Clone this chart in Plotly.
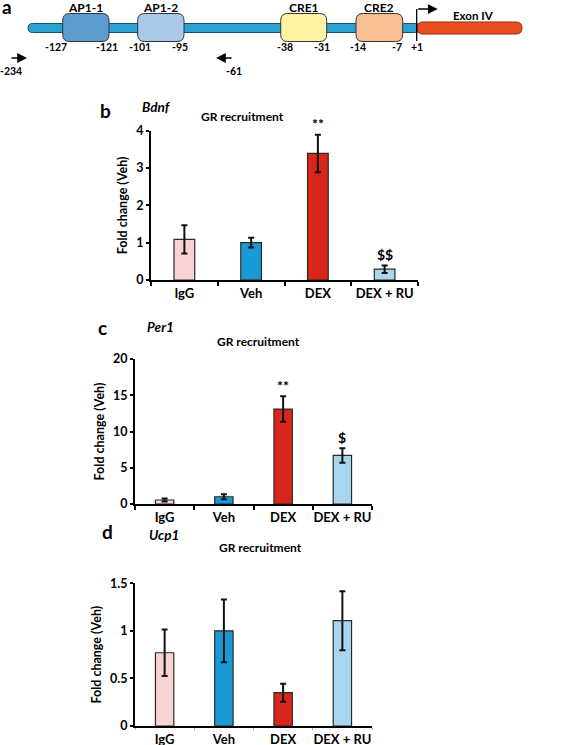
import plotly.graph_objects as go

# ---------------- data ----------------
categories = ["IgG", "Veh", "DEX", "DEX + RU"]

bdnf_values = [1.09, 1.0, 3.39, 0.29]
bdnf_errors = [0.38, 0.13, 0.50, 0.10]
bdnf_marks = ["", "", "**", "$$"]

per1_values = [0.55, 1.0, 13.1, 6.7]
per1_errors = [0.2, 0.35, 1.75, 1.0]
per1_marks = ["", "", "**", "$"]

ucp1_values = [0.77, 1.0, 0.35, 1.107]
ucp1_errors = [0.245, 0.33, 0.095, 0.31]
ucp1_marks = ["", "", "", ""]

# promoter diagram (diagram units)
elements = ["AP1-1", "AP1-2", "CRE1", "CRE2"]
element_start = [62.7, 137.7, 280.7, 356.0]
element_end = [109.0, 184.0, 326.7, 402.7]
site_labels = ["-127", "-121", "-101", "-95", "-38", "-31", "-14", "-7", "+1"]
site_pos = [56, 106.5, 139.5, 180, 285, 321.5, 358, 397, 416.7]
promoter_start, promoter_end = 28, 420
exon_label = "Exon IV"
exon_start, exon_end = 417, 522
tss_pos = 416.7
primer_labels = ["-234", "-61"]
primer_pos = [10, 233]
primer_dir = [1, -1]

# ---------------- styles ----------------
FONT = "Lato"
bar_colors = ["#F9D3D3", "#1A9AD3", "#D8261B", "#A8D6EF"]
element_colors = ["#5B9DD0", "#A9C9EA", "#FFF2A3", "#F8C092"]
W, H = 568, 745

fig = go.Figure()


def py(px):
    return 1 - px / H


panels = [
    dict(vals=bdnf_values, errs=bdnf_errors, marks=bdnf_marks, x="x", y="y",
         xd=[151 / W, 418 / W], yd=[py(280), py(130.7)], rng=[0, 4], dtick=1,
         tcol="black", tw=2, tl=4),
    dict(vals=per1_values, errs=per1_errors, marks=per1_marks, x="x2", y="y2",
         xd=[135 / W, 372 / W], yd=[py(504), py(359)], rng=[0, 20], dtick=5,
         tcol="black", tw=2, tl=4),
    dict(vals=ucp1_values, errs=ucp1_errors, marks=ucp1_marks, x="x3", y="y3",
         xd=[135 / W, 372 / W], yd=[py(726), py(583.3)], rng=[0, 1.5], dtick=0.5,
         tcol="#b0b0b0", tw=1, tl=2),
]

annotations = []
for i, p in enumerate(panels):
    fig.add_trace(go.Bar(
        x=categories, y=p["vals"], xaxis=p["x"], yaxis=p["y"], width=0.31,
        marker=dict(color=bar_colors, line=dict(color="#2a2a2a", width=1.2)),
        error_y=dict(type="data", array=p["errs"], color="#111111", thickness=2, width=3),
        hoverinfo="skip",
    ))
    sfx = "" if i == 0 else str(i + 1)
    fig.layout["xaxis" + sfx] = dict(
        domain=p["xd"], anchor=p["y"], type="category", range=[-0.5, 3.5],
        showline=True, linecolor="black", linewidth=2, ticks="outside",
        tickson="boundaries", ticklen=p["tl"], tickwidth=p["tw"], tickcolor=p["tcol"],
        tickangle=0, automargin=False,
        tickfont=dict(family=FONT, size=13, color="black", weight="bold"),
        showgrid=False, zeroline=False, fixedrange=True)
    fig.layout["yaxis" + sfx] = dict(
        domain=p["yd"], anchor=p["x"], range=p["rng"], dtick=p["dtick"],
        showline=True, linecolor="black", linewidth=2, ticks="outside",
        ticklen=3, tickwidth=2, tickcolor="black", automargin=False,
        tickfont=dict(family=FONT, size=12.5, color="black", weight="bold"),
        showgrid=False, zeroline=False, fixedrange=True,
        title=dict(text="Fold change (Veh)", standoff=6,
                   font=dict(family=FONT, size=12.5, color="black", weight="bold")))
    for c, v, e, m in zip(categories, p["vals"], p["errs"], p["marks"]):
        if m:
            annotations.append(dict(
                x=c, y=v + e, xref=p["x"], yref=p["y"], text="<b>%s</b>" % m,
                showarrow=False, yanchor="middle", yshift=11,
                font=dict(family=FONT, size=14, color="black")))

# panel headers
headers = [("b", "Bdnf", 98, 140, 97, 242, 107),
           ("c", "Per1", 96, 145, 327, 258, 341),
           ("d", "Ucp1", 100, 147, 545, 260, 557)]
for letter, gene, lx, gx, gy, tx, ty in headers:
    annotations.append(dict(x=lx / W, y=py(gy), xref="paper", yref="paper",
                            text="<b>%s</b>" % letter, showarrow=False,
                            font=dict(family=FONT, size=19, color="black")))
    annotations.append(dict(x=gx / W, y=py(gy), xref="paper", yref="paper",
                            text="<b><i>%s</i></b>" % gene, showarrow=False,
                            font=dict(family=FONT, size=13.5, color="black")))
    annotations.append(dict(x=tx / W, y=py(ty), xref="paper", yref="paper",
                            text="<b>GR recruitment</b>", showarrow=False,
                            font=dict(family=FONT, size=12, color="black")))

# ---------------- promoter diagram axis ----------------
fig.layout["xaxis4"] = dict(domain=[0, 1], range=[0, W], anchor="y4", visible=False,
                            fixedrange=True, automargin=False)
fig.layout["yaxis4"] = dict(domain=[py(110), 1], range=[110, 0], anchor="x4", visible=False,
                            fixedrange=True, automargin=False)


def rrect(x0, x1, y0, y1, r):
    return (f"M{x0+r},{y0} L{x1-r},{y0} Q{x1},{y0} {x1},{y0+r} L{x1},{y1-r} "
            f"Q{x1},{y1} {x1-r},{y1} L{x0+r},{y1} Q{x0},{y1} {x0},{y1-r} "
            f"L{x0},{y0+r} Q{x0},{y0} {x0+r},{y0} Z")


shapes = []
shapes.append(dict(type="path", xref="x4", yref="y4",
                   path=rrect(promoter_start, promoter_end, 23.5, 32.5, 4.5),
                   fillcolor="#2AA2D2", line=dict(color="#1d4f66", width=1)))
for name, s, e, col in zip(elements, element_start, element_end, element_colors):
    shapes.append(dict(type="path", xref="x4", yref="y4",
                       path=rrect(s, e, 13.5, 41.5, 7),
                       fillcolor=col, line=dict(color="#333333", width=1)))
    annotations.append(dict(x=(s + e) / 2, y=7, xref="x4", yref="y4",
                            text="<b>%s</b>" % name, showarrow=False,
                            font=dict(family=FONT, size=12, color="black")))
shapes.append(dict(type="path", xref="x4", yref="y4",
                   path=rrect(exon_start, exon_end, 22, 34, 6),
                   fillcolor="#E8501F", line=dict(color="#8a2a10", width=1)))
annotations.append(dict(x=473, y=15, xref="x4", yref="y4",
                        text="<b>%s</b>" % exon_label, showarrow=False,
                        font=dict(family=FONT, size=11.5, color="black")))
# TSS arrow
shapes.append(dict(type="line", xref="x4", yref="y4", x0=tss_pos, x1=tss_pos,
                   y0=9, y1=41, line=dict(color="black", width=1.3)))
annotations.append(dict(x=tss_pos + 21, y=9, ax=tss_pos, ay=9, xref="x4", yref="y4",
                        axref="x4", ayref="y4", text="", showarrow=True,
                        arrowhead=2, arrowsize=1.5, arrowwidth=1.3, arrowcolor="black"))
for lab, pos in zip(site_labels, site_pos):
    annotations.append(dict(x=pos, y=47, xref="x4", yref="y4",
                            text="<b>%s</b>" % lab, showarrow=False,
                            font=dict(family=FONT, size=10.5, color="black")))
# primers
for lab, pos, d in zip(primer_labels, primer_pos, primer_dir):
    annotations.append(dict(x=pos + d * 17, y=58, ax=pos, ay=58, xref="x4", yref="y4",
                            axref="x4", ayref="y4", text="", showarrow=True,
                            arrowhead=2, arrowsize=1.4, arrowwidth=1.4, arrowcolor="black"))
    annotations.append(dict(x=pos + 1, y=70.5, xref="x4", yref="y4",
                            text="<b>%s</b>" % lab, showarrow=False,
                            font=dict(family=FONT, size=10.5, color="black")))
annotations.append(dict(x=7, y=6, xref="x4", yref="y4", text="<b>a</b>", showarrow=False,
                        font=dict(family=FONT, size=19, color="black")))

fig.update_layout(
    width=W, height=H, margin=dict(l=0, r=0, t=0, b=0, autoexpand=False),
    paper_bgcolor="white", plot_bgcolor="white", showlegend=False,
    annotations=annotations, shapes=shapes, hovermode=False,
    font=dict(family=FONT, color="black"),
)

fig.write_html("out.html", config={"displayModeBar": False, "staticPlot": True},
               post_script="document.body.style.margin='0';document.body.style.overflow='hidden';")
